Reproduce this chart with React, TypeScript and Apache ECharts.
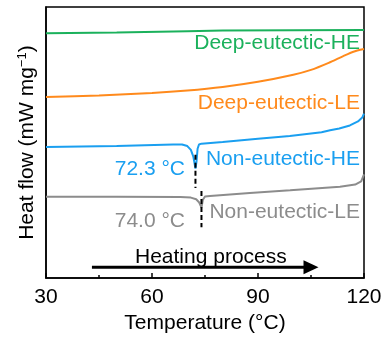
import React, { useEffect, useRef } from "react";
import * as echarts from "echarts";

// Temperature (°C) / heat flow (arb. units)
const greenT = [30, 50, 70, 80, 100, 120];
const greenV = [9.03, 9.06, 9.11, 9.13, 9.14, 9.15];

const orangeT = [30, 45, 60, 70, 80, 90, 100, 105, 110, 114, 117, 120];
const orangeV = [6.68, 6.74, 6.83, 6.92, 7.05, 7.24, 7.5, 7.68, 7.94, 8.18, 8.35, 8.45];

const blueT = [30, 50, 66, 68.5, 70, 71, 71.7, 72.3, 72.6, 72.9, 73.3, 74, 80, 90, 99, 108, 110.4, 113, 116, 118.3, 119.5, 120];
const blueV = [4.84, 4.87, 4.93, 4.93, 4.87, 4.73, 4.48, 4.04, 4.3, 4.77, 4.93, 4.96, 5.02, 5.14, 5.24, 5.38, 5.45, 5.52, 5.63, 5.78, 5.92, 6.07];

const grayT = [30, 50, 68, 71, 72.5, 73.3, 74.0, 74.4, 75.0, 76.4, 87.7, 99.1, 113.2, 117.5, 119.2, 120];
const grayV = [3.0, 3.0, 2.99, 2.97, 2.91, 2.8, 2.6, 2.89, 3.01, 3.03, 3.14, 3.24, 3.37, 3.45, 3.57, 3.83];

const peakT = [72.3, 74.0];
const peakLabels = ["72.3 °C", "74.0 °C"];
const blueDashV = [4.55, 3.32];
const grayDashV = [3.21, 1.88];

const arrowT = [43, 105];
const arrowV = 0.4;

const xTicks = [30, 60, 90, 120];

const seriesNames = ["Deep-eutectic-HE", "Deep-eutectic-LE", "Non-eutectic-HE", "Non-eutectic-LE"];
const colors = ["#1bb15c", "#ff8a1c", "#1a9ff0", "#8c8c8c"];

const FONT = "'Liberation Sans', Arial, Helvetica, sans-serif";

const zip = (t: number[], v: number[]) => t.map((x, i) => [x, v[i]]);

export default function App() {
  const ref = useRef<HTMLDivElement>(null);
  useEffect(() => {
    if (!ref.current) return;
    const chart = echarts.init(ref.current, null, { renderer: "svg" });
    const lineS = (name: string, data: number[][], color: string) => ({
      name,
      type: "line",
      data,
      showSymbol: false,
      symbol: "none",
      smooth: false,
      lineStyle: { color, width: 2 },
      itemStyle: { color },
      z: 3,
    });
    const textEl = (text: string, x: number, y: number, color: string, align: string) => ({
      type: "text",
      x,
      y,
      style: { text, fill: color, fontSize: 21, fontFamily: FONT, align, verticalAlign: "middle" },
      z: 10,
    });
    chart.setOption({
      animation: false,
      grid: { left: 46, right: 28, top: 7, bottom: 53, show: true, borderColor: "#000", borderWidth: 1.5 },
      xAxis: {
        type: "value",
        min: xTicks[0],
        max: xTicks[xTicks.length - 1],
        interval: 30,
        name: "Temperature (°C)",
        nameLocation: "middle",
        nameGap: 26,
        nameTextStyle: { fontSize: 21, color: "#000", fontFamily: FONT },
        axisLine: { lineStyle: { color: "#000", width: 1.5 } },
        axisTick: { inside: true, length: 5, lineStyle: { color: "#000", width: 1.5 } },
        minorTick: { show: true, splitNumber: 2, length: 3, lineStyle: { color: "#000", width: 1.5 } },
        axisLabel: { fontSize: 21, color: "#000", margin: 7, fontFamily: FONT },
        splitLine: { show: false },
      },
      yAxis: {
        type: "value",
        min: 0,
        max: 10,
        name: "Heat flow (mW mg{sup|−1})",
        nameLocation: "middle",
        nameRotate: 90,
        nameGap: 10,
        nameTextStyle: {
          fontSize: 21,
          color: "#000",
          fontFamily: FONT,
          rich: { sup: { fontSize: 13, color: "#000", fontFamily: FONT, verticalAlign: "top", padding: [0, 0, 8, 0] } },
        },
        axisLine: { lineStyle: { color: "#000", width: 1.5 } },
        axisTick: { show: false },
        axisLabel: { show: false },
        splitLine: { show: false },
      },
      series: [
        lineS(seriesNames[0], zip(greenT, greenV), colors[0]),
        { ...lineS(seriesNames[1], zip(orangeT, orangeV), colors[1]), smooth: 0.25 },
        lineS(seriesNames[2], zip(blueT, blueV), colors[2]),
        lineS(seriesNames[3], zip(grayT, grayV), colors[3]),
        {
          type: "line",
          data: blueDashV.map((v) => [peakT[0], v]),
          showSymbol: false,
          symbol: "none",
          lineStyle: { color: "#000", width: 2, type: [5, 3] },
          z: 4,
        },
        {
          type: "line",
          data: grayDashV.map((v) => [peakT[1], v]),
          showSymbol: false,
          symbol: "none",
          lineStyle: { color: "#000", width: 2, type: [5, 3] },
          z: 4,
        },
        {
          type: "line",
          data: [
            { value: [arrowT[0], arrowV], symbol: "none" },
            { value: [arrowT[1], arrowV], symbol: "triangle", symbolRotate: -90, symbolSize: [14, 15] },
          ],
          showSymbol: true,
          lineStyle: { color: "#000", width: 3 },
          itemStyle: { color: "#000" },
          z: 4,
        },
      ],
      graphic: [
        textEl(seriesNames[0], 360, 41, colors[0], "right"),
        textEl(seriesNames[1], 360, 101.5, colors[1], "right"),
        textEl(seriesNames[2], 360, 157.5, colors[2], "right"),
        textEl(seriesNames[3], 360, 210.5, colors[3], "right"),
        textEl(peakLabels[0], 185, 167, colors[2], "right"),
        textEl(peakLabels[1], 185, 219.5, colors[3], "right"),
        textEl("Heating process", 135, 255, "#000", "left"),
      ],
    });
    return () => chart.dispose();
  }, []);
  return <div ref={ref} style={{ position: "fixed", left: 0, top: 0, width: 392, height: 337 }} />;
}
